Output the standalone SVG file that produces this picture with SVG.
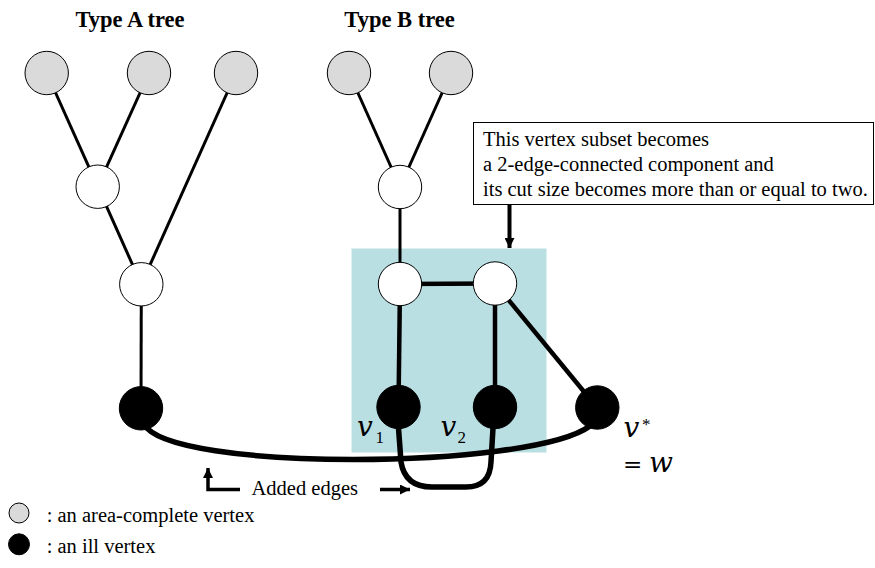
<svg xmlns="http://www.w3.org/2000/svg" width="875" height="568" viewBox="0 0 875 568">
<defs>
<style>
.title{font-family:"Liberation Serif","Times New Roman",serif;font-weight:bold;font-size:22.5px;fill:#000}
.txt{font-family:"Liberation Serif","Times New Roman",serif;font-size:20.5px;fill:#000}
.math{font-family:"DejaVu Serif",serif;font-style:italic;font-size:28px;fill:#000}
.eq{font-family:"DejaVu Serif",serif;font-size:23px;fill:#000}
.sub{font-family:"Liberation Serif","Times New Roman",serif;font-size:17px;fill:#000}
.gray{fill:#dadada;stroke:#000;stroke-width:1}
.white{fill:#fff;stroke:#000;stroke-width:1}
.ill{fill:#000;stroke:#000;stroke-width:1}
.e{stroke:#000;stroke-width:3;fill:none}
.eb{stroke:#000;stroke-width:4.5;fill:none}
.add{stroke:#000;stroke-width:5.5;fill:none;stroke-linecap:round}
</style>
<marker id="ah" viewBox="0 0 10 10" refX="10" refY="5" markerWidth="10" markerHeight="10" markerUnits="userSpaceOnUse" orient="auto">
<path d="M0,0 L10,5 L0,10 Z" fill="#000"/>
</marker>
</defs>
<rect id="subset" x="351.5" y="248.5" width="195" height="204" fill="#b9dfe3"/>
<text class="title" x="130" y="27" text-anchor="middle">Type A tree</text>
<text class="title" x="399.5" y="27" text-anchor="middle">Type B tree</text>
<g id="connectors">
<line class="e" x1="46.7" y1="73" x2="97.7" y2="186.7"/>
<line class="e" x1="149" y1="73" x2="97.7" y2="186.7"/>
<line class="e" x1="236" y1="73" x2="141.3" y2="284.3"/>
<line class="e" x1="97.7" y1="186.7" x2="141.3" y2="284.3"/>
<line class="e" x1="141.3" y1="284.3" x2="141" y2="408"/>
<line class="e" x1="349" y1="73" x2="400" y2="187"/>
<line class="e" x1="451" y1="73" x2="400" y2="187"/>
<line class="e" x1="400" y1="187" x2="400" y2="284"/>
<line class="eb" x1="400" y1="284" x2="495" y2="283.5"/>
<line class="eb" x1="400" y1="284" x2="398.5" y2="407"/>
<line class="eb" x1="495" y1="283.5" x2="495" y2="407"/>
<line class="eb" x1="495" y1="283.5" x2="597" y2="407.5"/>
<path class="add" d="M144,424 C168,472 530,470 590,426"/>
<path class="add" d="M398.5,428 L401,462 Q405,487 432,487 L466,487 Q490,487 491,462 L493,428"/>
<line stroke="#000" stroke-width="4" x1="509.5" y1="205" x2="509.5" y2="248" marker-end="url(#ah)"/>
<polyline stroke="#000" stroke-width="3.5" fill="none" points="240,489.5 208,489.5 208,468" marker-end="url(#ah)"/>
<line stroke="#000" stroke-width="3.5" x1="380" y1="489.5" x2="410" y2="489.5" marker-end="url(#ah)"/>
</g>
<g id="a-leaf1"><circle class="gray" cx="46.7" cy="73" r="21.7"/></g>
<g id="a-leaf2"><circle class="gray" cx="149" cy="73" r="21.7"/></g>
<g id="a-leaf3"><circle class="gray" cx="236" cy="73" r="21.7"/></g>
<g id="a-mid"><circle class="white" cx="97.7" cy="186.7" r="21.7"/></g>
<g id="a-low"><circle class="white" cx="141.3" cy="284.3" r="21.7"/></g>
<g id="a-ill"><circle class="ill" cx="141" cy="408.3" r="21.7"/></g>
<g id="b-leaf1"><circle class="gray" cx="349" cy="73" r="21.7"/></g>
<g id="b-leaf2"><circle class="gray" cx="451" cy="73" r="21.7"/></g>
<g id="b-mid"><circle class="white" cx="400" cy="187" r="21.7"/></g>
<g id="b-low1"><circle class="white" cx="400" cy="284" r="21.7"/></g>
<g id="b-low2"><circle class="white" cx="495" cy="283.5" r="21.7"/></g>
<g id="v1"><circle class="ill" cx="398.5" cy="407" r="21.7"/>
<text class="math" x="357" y="436">v</text><text class="sub" x="375.5" y="443">1</text></g>
<g id="v2"><circle class="ill" cx="495" cy="407" r="21.7"/>
<text class="math" x="440.5" y="436">v</text><text class="sub" x="457.5" y="443">2</text></g>
<g id="vstar"><circle class="ill" cx="597.3" cy="407.5" r="21.7"/>
<text class="math" x="623.5" y="437">v</text><text class="sub" x="642" y="430" font-size="19px">*</text>
<text class="eq" x="623" y="472">=</text><text class="math" x="649" y="472">w</text></g>
<g id="note">
<rect x="473.5" y="122.5" width="400" height="82" fill="#fff" stroke="#000" stroke-width="1"/>
<text class="txt" x="483" y="146">This vertex subset becomes</text>
<text class="txt" x="483" y="171">a 2-edge-connected component and</text>
<text class="txt" x="483" y="196">its cut size becomes more than or equal to two.</text>
</g>
<text class="txt" x="251.5" y="494.5">Added edges</text>
<g id="legend">
<circle class="gray" cx="19" cy="513" r="10"/>
<text class="txt" x="46.7" y="521.5">: an area-complete vertex</text>
<circle class="ill" cx="19" cy="544.3" r="10.5"/>
<text class="txt" x="46.7" y="553">: an ill vertex</text>
</g>
</svg>
